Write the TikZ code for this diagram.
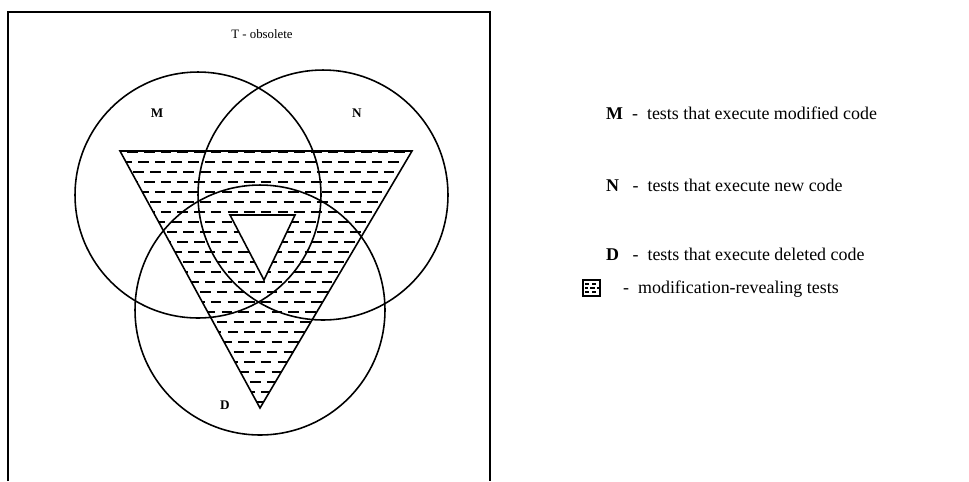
\documentclass[tikz,border=0pt]{standalone}
\usepackage{fontspec}
\setmainfont{Liberation Serif}

\begin{document}
\begin{tikzpicture}[x=0.02cm,y=-0.02cm,
  set/.style={line width=0.9pt},
  hatch/.style={line width=1.1pt,dash pattern=on 6pt off 3.5pt},
  keyhatch/.style={line width=0.7pt,dash pattern=on 2.5pt off 1.5pt},
  setname/.style={font=\bfseries\fontsize{7.5}{9}\selectfont},
  legend/.style={anchor=west,font=\fontsize{10.2}{12}\selectfont}]
\useasboundingbox (0,0) rectangle (969,481);

\draw[line width=1pt] (8,481) -- (8,12) -- (490,12) -- (490,481);
\node[font=\fontsize{7.3}{8}\selectfont] (T) at (262,34) {T - obsolete};

\coordinate (m) at (198,195);
\coordinate (n) at (323,195);
\coordinate (d) at (260,310);

\coordinate (a) at (120,151);
\coordinate (b) at (412,151);
\coordinate (c) at (260,408);
\coordinate (p) at (230,215);
\coordinate (q) at (295,215);
\coordinate (r) at (264,280);

\begin{scope}[even odd rule]
  \clip (a) -- (b) -- (c) -- cycle (p) -- (q) -- (r) -- cycle;
  \foreach \y [count=\i, evaluate=\i as \sx using {100-6*mod(\i,3)}] in {152,162,...,402}
    \draw[hatch] (\sx,\y) -- (430,\y);
\end{scope}
\draw[set] (a) -- (b) -- (c) -- cycle;
\draw[set] (p) -- (q) -- (r) -- cycle;

\draw[set] (m) circle[radius=2.46cm];
\draw[set] (n) circle[radius=2.5cm];
\draw[set] (d) circle[radius=2.5cm];

\node[setname] (lm) at (157,113) {M};
\node[setname] (ln) at (357,113) {N};
\node[setname] (ld) at (225,405) {D};

\node[legend] (km) at (600,113) {\textbf{M}\ \ -\ \ tests that execute modified code};
\node[legend] (kn) at (600,185) {\textbf{N}\ \ \ -\ \ tests that execute new code};
\node[legend] (kd) at (600,254) {\textbf{D}\ \ \ -\ \ tests that execute deleted code};

\coordinate (k1) at (583,280);
\coordinate (k2) at (600,296);
\draw[line width=0.7pt] (k1) rectangle (k2);
\begin{scope}
  \clip (k1) rectangle (k2);
  \draw[keyhatch] (585,284) -- (600,284);
  \draw[keyhatch,dash phase=1pt] (585,288) -- (600,288);
  \draw[keyhatch] (585,292) -- (600,292);
\end{scope}
\node[legend] (kh) at (617,289) {-\ \ modification-revealing tests};
\end{tikzpicture}
\end{document}
